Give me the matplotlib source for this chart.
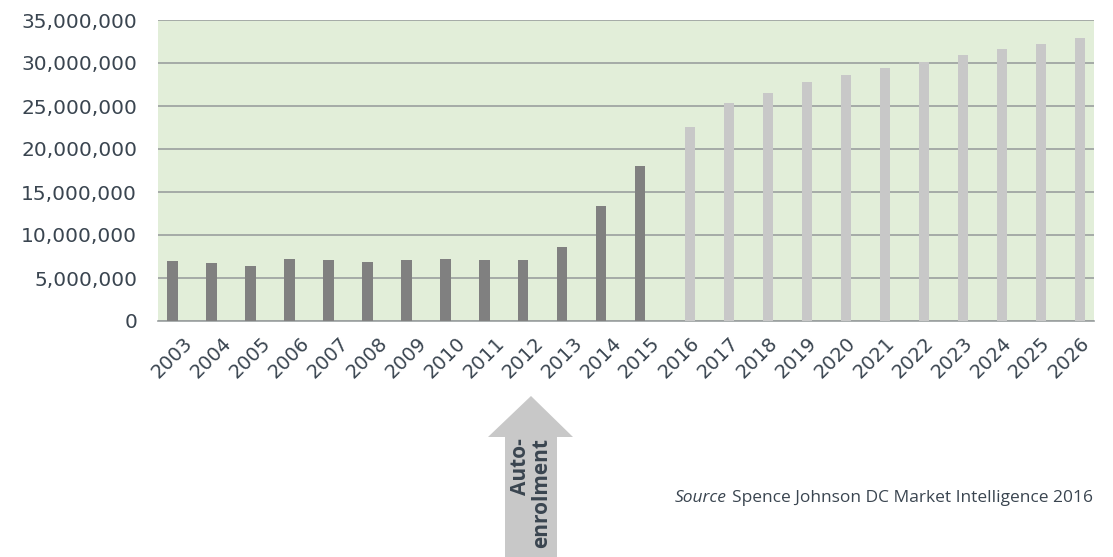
import matplotlib
matplotlib.use("Agg")
import matplotlib.pyplot as plt
from matplotlib.patches import Polygon
from matplotlib.ticker import FuncFormatter
from matplotlib.transforms import ScaledTranslation
import numpy as np

years = [str(y) for y in range(2003, 2027)]
actual = [7.0, 6.7, 6.4, 7.2, 7.1, 6.9, 7.1, 7.2, 7.1, 7.1, 8.6, 13.4, 18.0]
projected = [22.6, 25.3, 26.5, 27.75, 28.55, 29.4, 30.1, 30.9, 31.6, 32.2, 32.9]
actual = [v * 1e6 for v in actual]
projected = [v * 1e6 for v in projected]

plt.rcParams['font.family'] = ['DejaVu Sans']
txt_color = '#3a4550'

W, H = 1113, 557
fig = plt.figure(figsize=(W / 100, H / 100), dpi=100)
ax = fig.add_axes([158/W, 1-321/H, (1094-158)/W, (321-20)/H])
ax.set_facecolor('#e2eed9')

x = np.arange(len(years))
w = 0.28
n_act = len(actual)
ax.bar(x[:n_act] - w/2, actual, width=w, color='#808080', zorder=3)
ax.bar(x[n_act:] + w/2, projected, width=w, color='#c8c8c8', zorder=3)

ax.set_xlim(-0.5, len(years) - 0.5)
ax.set_ylim(0, 35e6)
ax.set_yticks(np.arange(0, 35e6 + 1, 5e6))
ax.yaxis.set_major_formatter(FuncFormatter(lambda v, p: f"{int(v):,}"))
ax.grid(axis='y', color='#9a9f9f', linewidth=1.2, zorder=1)
ax.set_axisbelow(True)
for s in ['left', 'right', 'top']:
    ax.spines[s].set_visible(False)
ax.spines['bottom'].set_color('#9a9f9f')
ax.spines['bottom'].set_linewidth(1.2)
ax.set_xticks(x)
ax.set_xticklabels(years, rotation=45, ha='right', va='top', rotation_mode='anchor')
ax.tick_params(axis='both', length=0, labelsize=14.5, colors=txt_color)
ax.tick_params(axis='x', labelsize=14)
ax.tick_params(axis='y', pad=15)
ax.tick_params(axis='x', pad=9)
shift = ScaledTranslation(5 / 100, 0, fig.dpi_scale_trans)
for lbl in ax.get_xticklabels():
    lbl.set_transform(lbl.get_transform() + shift)

# Auto-enrolment arrow (figure pixel coordinates)
pts = [(531, 396), (573, 437), (557, 437), (557, 557), (505, 557), (505, 437), (488, 437)]
pts = [(px / W, 1 - py / H) for px, py in pts]
fig.patches.append(Polygon(pts, closed=True, transform=fig.transFigure,
                           facecolor='#c8c8c8', edgecolor='none'))
fig.text(531 / W, 1 - 493 / H, "Auto-\nenrolment", rotation=90, ha='center', va='center',
         multialignment='right', fontsize=15, fontweight='bold', color=txt_color,
         linespacing=1.05, family=['Open Sans', 'DejaVu Sans'])

# Source note
t2 = fig.text(1093 / W, 1 - 498 / H, "Spence Johnson DC Market Intelligence 2016",
              ha='right', va='center', fontsize=12.5, color=txt_color,
              family=['Open Sans', 'DejaVu Sans'])
fig.canvas.draw()
bb = t2.get_window_extent()
fig.text(bb.x0 - 5, H - 498, "Source", transform=None, ha='right', va='center',
         fontsize=12.5, style='italic', color=txt_color,
         family=['Open Sans', 'DejaVu Sans'])

fig.savefig("out.png", dpi=100)
